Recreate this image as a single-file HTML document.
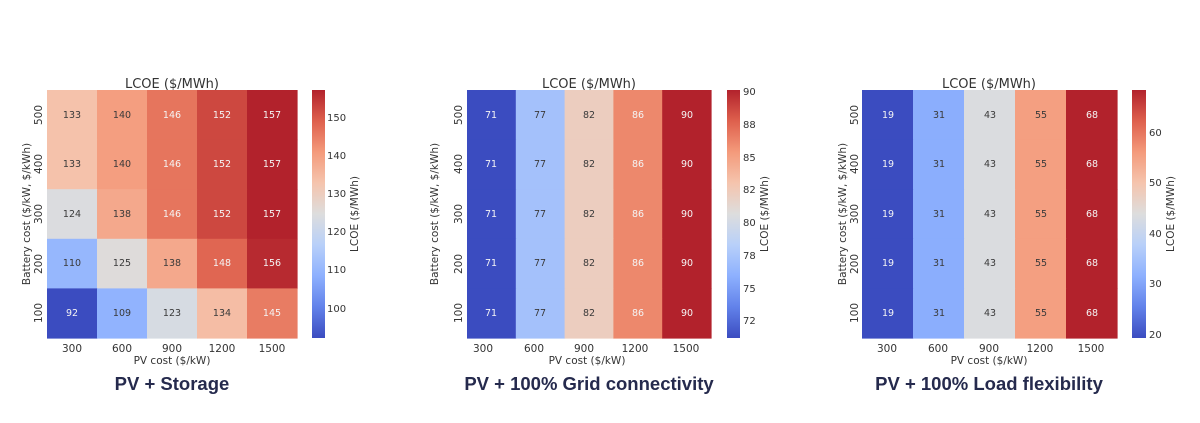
<!DOCTYPE html>
<html><head><meta charset="utf-8"><style>
body{margin:0;background:#fff}
svg{display:block}
.t{font-family:"DejaVu Sans","Liberation Sans",sans-serif;fill:#333}
.c{font-size:9.5px;text-anchor:middle}
.d{fill:#3a3a3a}.w{fill:#f4f4f4}
.tk{font-size:10.5px}
.cb{font-size:10px}
.b{font-family:"Liberation Sans",sans-serif;font-weight:bold;font-size:18.5px;fill:#252a4d;text-anchor:middle}
</style></head><body>
<svg id="s" width="1200" height="423" viewBox="0 0 1200 423" xmlns="http://www.w3.org/2000/svg">
<defs>
<linearGradient id="cw" x1="0" y1="1" x2="0" y2="0">
<stop offset="0" stop-color="#3b4cc0"/><stop offset="0.125" stop-color="#6282ea"/><stop offset="0.25" stop-color="#8db0fe"/><stop offset="0.375" stop-color="#b8d0f9"/><stop offset="0.5" stop-color="#dddddd"/><stop offset="0.625" stop-color="#f5c4ad"/><stop offset="0.75" stop-color="#f49a7b"/><stop offset="0.875" stop-color="#de604d"/><stop offset="1" stop-color="#b2222c"/>
</linearGradient>
</defs>
<g id="cells"></g>
<rect x="312" y="90" width="13" height="248" fill="url(#cw)"/>
<rect x="727" y="90" width="13" height="248" fill="url(#cw)"/>
<rect x="1132" y="90" width="14" height="248" fill="url(#cw)"/>
<g class="t">
<!-- chart 1 -->
<text x="172" y="88" font-size="13" text-anchor="middle">LCOE ($/MWh)</text>
<g class="c">
<text x="72" y="118" class="d">133</text><text x="122" y="118" class="d">140</text><text x="172" y="118" class="w">146</text><text x="222" y="118" class="w">152</text><text x="272" y="118" class="w">157</text>
<text x="72" y="167" class="d">133</text><text x="122" y="167" class="d">140</text><text x="172" y="167" class="w">146</text><text x="222" y="167" class="w">152</text><text x="272" y="167" class="w">157</text>
<text x="72" y="217" class="d">124</text><text x="122" y="217" class="d">138</text><text x="172" y="217" class="w">146</text><text x="222" y="217" class="w">152</text><text x="272" y="217" class="w">157</text>
<text x="72" y="266" class="d">110</text><text x="122" y="266" class="d">125</text><text x="172" y="266" class="d">138</text><text x="222" y="266" class="w">148</text><text x="272" y="266" class="w">156</text>
<text x="72" y="316" class="w">92</text><text x="122" y="316" class="d">109</text><text x="172" y="316" class="d">123</text><text x="222" y="316" class="d">134</text><text x="272" y="316" class="w">145</text>
</g>
<g class="tk" text-anchor="middle">
<text x="72" y="352">300</text><text x="122" y="352">600</text><text x="172" y="352">900</text><text x="222" y="352">1200</text><text x="272" y="352">1500</text>
<text x="172" y="364">PV cost ($/kW)</text>
<text transform="translate(42,115) rotate(-90)">500</text><text transform="translate(42,164) rotate(-90)">400</text><text transform="translate(42,214) rotate(-90)">300</text><text transform="translate(42,264) rotate(-90)">200</text><text transform="translate(42,313) rotate(-90)">100</text>
<text transform="translate(30,214) rotate(-90)">Battery cost ($/kW, $/kWh)</text>
<text transform="translate(358,214) rotate(-90)">LCOE ($/MWh)</text>
</g>
<g class="cb">
<text x="327" y="121">150</text><text x="327" y="159">140</text><text x="327" y="197">130</text><text x="327" y="235">120</text><text x="327" y="273">110</text><text x="327" y="312">100</text>
</g>
<!-- chart 2 -->
<text x="589" y="88" font-size="13" text-anchor="middle">LCOE ($/MWh)</text>
<g class="c">
<text x="491" y="118" class="w">71</text><text x="540" y="118" class="d">77</text><text x="589" y="118" class="d">82</text><text x="638" y="118" class="w">86</text><text x="687" y="118" class="w">90</text>
<text x="491" y="167" class="w">71</text><text x="540" y="167" class="d">77</text><text x="589" y="167" class="d">82</text><text x="638" y="167" class="w">86</text><text x="687" y="167" class="w">90</text>
<text x="491" y="217" class="w">71</text><text x="540" y="217" class="d">77</text><text x="589" y="217" class="d">82</text><text x="638" y="217" class="w">86</text><text x="687" y="217" class="w">90</text>
<text x="491" y="266" class="w">71</text><text x="540" y="266" class="d">77</text><text x="589" y="266" class="d">82</text><text x="638" y="266" class="w">86</text><text x="687" y="266" class="w">90</text>
<text x="491" y="316" class="w">71</text><text x="540" y="316" class="d">77</text><text x="589" y="316" class="d">82</text><text x="638" y="316" class="w">86</text><text x="687" y="316" class="w">90</text>
</g>
<g class="tk" text-anchor="middle">
<text x="483" y="352">300</text><text x="534" y="352">600</text><text x="584" y="352">900</text><text x="635" y="352">1200</text><text x="686" y="352">1500</text>
<text x="587" y="364">PV cost ($/kW)</text>
<text transform="translate(462,115) rotate(-90)">500</text><text transform="translate(462,164) rotate(-90)">400</text><text transform="translate(462,214) rotate(-90)">300</text><text transform="translate(462,264) rotate(-90)">200</text><text transform="translate(462,313) rotate(-90)">100</text>
<text transform="translate(438,214) rotate(-90)">Battery cost ($/kW, $/kWh)</text>
<text transform="translate(768,214) rotate(-90)">LCOE ($/MWh)</text>
</g>
<g class="cb">
<text x="743" y="95">90</text><text x="743" y="128">88</text><text x="743" y="161">85</text><text x="743" y="193">82</text><text x="743" y="226">80</text><text x="743" y="259">78</text><text x="743" y="292">75</text><text x="743" y="324">72</text>
</g>
<!-- chart 3 -->
<text x="989" y="88" font-size="13" text-anchor="middle">LCOE ($/MWh)</text>
<g class="c">
<text x="888" y="118" class="w">19</text><text x="939" y="118" class="d">31</text><text x="990" y="118" class="d">43</text><text x="1041" y="118" class="d">55</text><text x="1092" y="118" class="w">68</text>
<text x="888" y="167" class="w">19</text><text x="939" y="167" class="d">31</text><text x="990" y="167" class="d">43</text><text x="1041" y="167" class="d">55</text><text x="1092" y="167" class="w">68</text>
<text x="888" y="217" class="w">19</text><text x="939" y="217" class="d">31</text><text x="990" y="217" class="d">43</text><text x="1041" y="217" class="d">55</text><text x="1092" y="217" class="w">68</text>
<text x="888" y="266" class="w">19</text><text x="939" y="266" class="d">31</text><text x="990" y="266" class="d">43</text><text x="1041" y="266" class="d">55</text><text x="1092" y="266" class="w">68</text>
<text x="888" y="316" class="w">19</text><text x="939" y="316" class="d">31</text><text x="990" y="316" class="d">43</text><text x="1041" y="316" class="d">55</text><text x="1092" y="316" class="w">68</text>
</g>
<g class="tk" text-anchor="middle">
<text x="887" y="352">300</text><text x="938" y="352">600</text><text x="989" y="352">900</text><text x="1040" y="352">1200</text><text x="1091" y="352">1500</text>
<text x="989" y="364">PV cost ($/kW)</text>
<text transform="translate(858,115) rotate(-90)">500</text><text transform="translate(858,164) rotate(-90)">400</text><text transform="translate(858,214) rotate(-90)">300</text><text transform="translate(858,264) rotate(-90)">200</text><text transform="translate(858,313) rotate(-90)">100</text>
<text transform="translate(846,214) rotate(-90)">Battery cost ($/kW, $/kWh)</text>
<text transform="translate(1174,214) rotate(-90)">LCOE ($/MWh)</text>
</g>
<g class="cb">
<text x="1149" y="136">60</text><text x="1149" y="186">50</text><text x="1149" y="237">40</text><text x="1149" y="287">30</text><text x="1149" y="338">20</text>
</g>
</g>
<text class="b" x="172" y="390">PV + Storage</text>
<text class="b" x="589" y="390">PV + 100% Grid connectivity</text>
<text class="b" x="989" y="390">PV + 100% Load flexibility</text>
</svg>
<script>
var K=[[59,76,192],[98,130,234],[141,176,254],[184,208,249],[221,221,221],[245,196,173],[244,154,123],[222,96,77],[178,34,44]];
function cw(t){t=Math.max(0,Math.min(1,t))*8;var i=Math.min(7,Math.floor(t)),f=t-i,a=K[i],b=K[i+1];
return 'rgb('+[0,1,2].map(function(k){return Math.round(a[k]+(b[k]-a[k])*f)}).join(',')+')';}
var charts=[
{x0:47,w:50,min:92,max:157,v:[[133,140,146,152,157],[133,140,146,152,157],[124,138,146,152,157],[110,125,138,148,156],[92,109,123,134,145]]},
{x0:467,w:48.8,min:71,max:90,v:[0,0,0,0,0].map(function(){return[71,77,82,86,90]})},
{x0:862,w:51,min:19,max:68,v:[0,0,0,0,0].map(function(){return[19,31,43,55,68]})}];
var g=document.getElementById('cells'),h=248/5,s='';
charts.forEach(function(c){for(var r=0;r<5;r++)for(var k=0;k<5;k++){
s+='<rect x="'+(c.x0+k*c.w)+'" y="'+(90+r*h)+'" width="'+(c.w+0.6)+'" height="'+(h+0.6)+'" fill="'+cw((c.v[r][k]-c.min)/(c.max-c.min))+'"/>';}});
g.innerHTML=s;
</script>
</body></html>
